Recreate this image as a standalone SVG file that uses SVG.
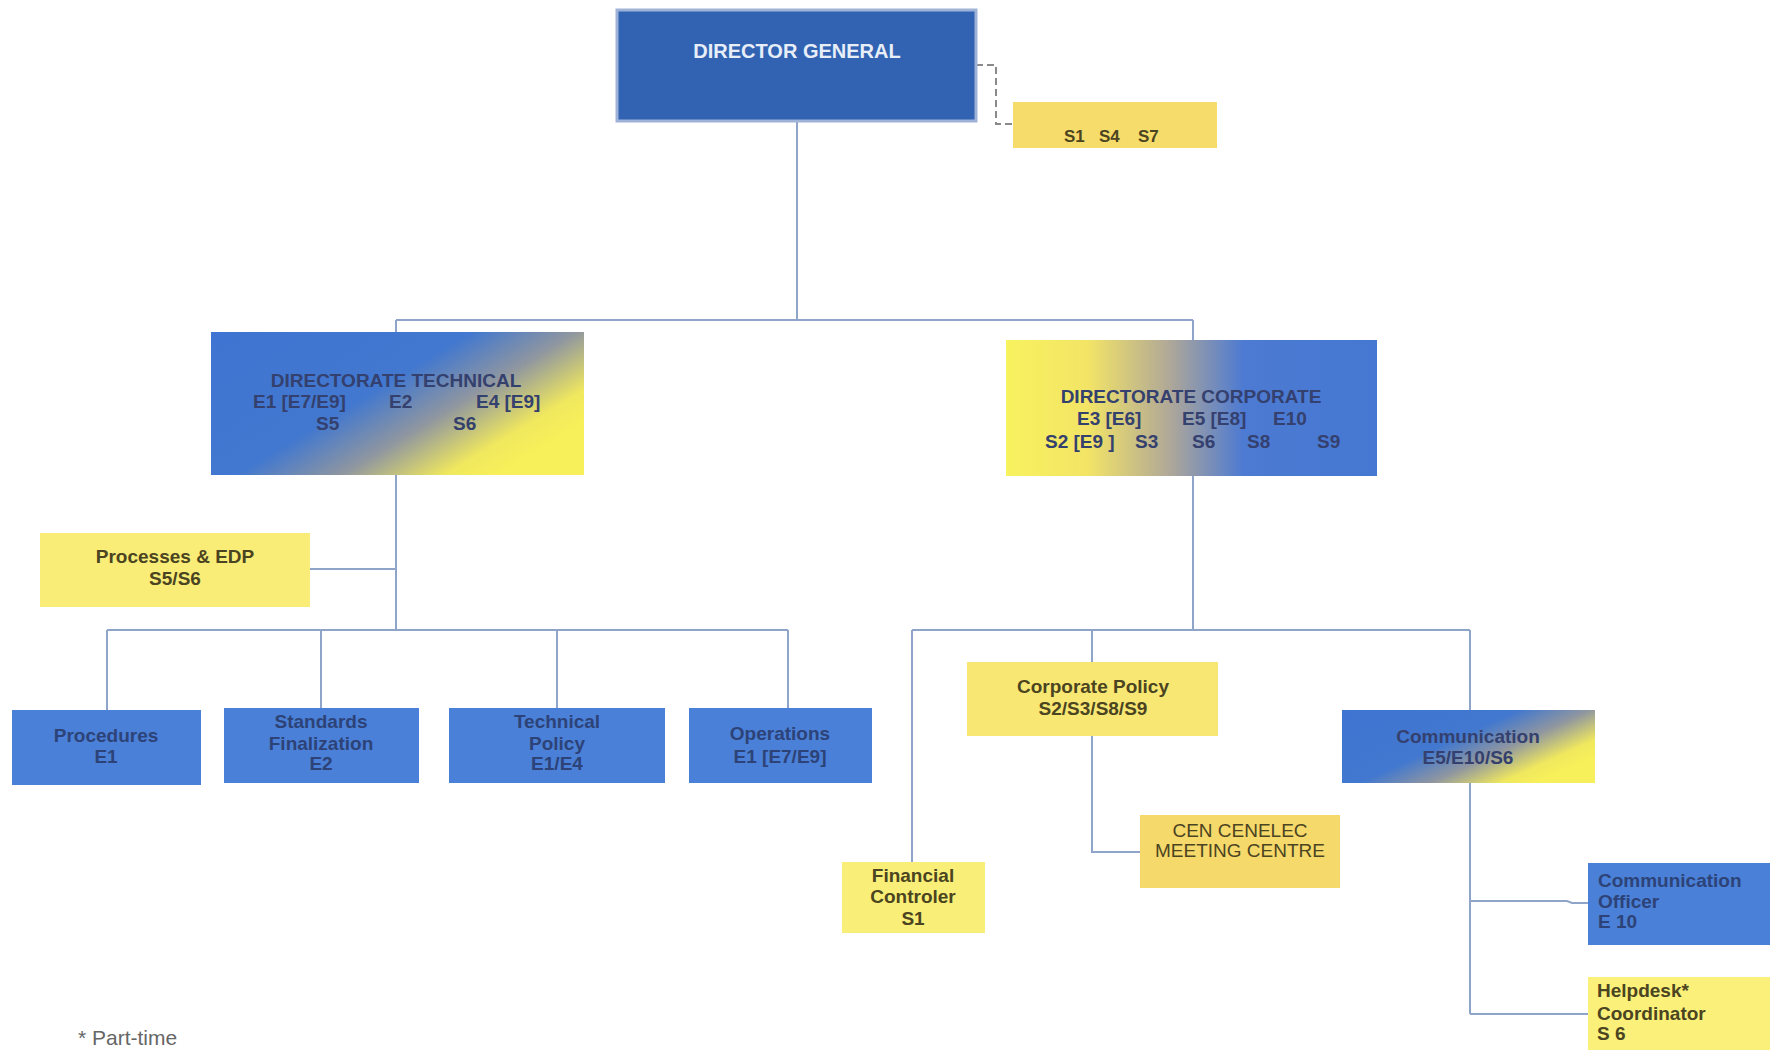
<svg xmlns="http://www.w3.org/2000/svg" width="1770" height="1050" viewBox="0 0 1770 1050">
<defs>
<linearGradient id="gBY" x1="0" y1="0" x2="1" y2="0.63" gradientUnits="objectBoundingBox">
<stop offset="0" stop-color="#3f74d2"/>
<stop offset="0.5" stop-color="#4278cf"/>
<stop offset="0.7" stop-color="#8f96a0"/>
<stop offset="0.9" stop-color="#f0e85e"/>
<stop offset="1" stop-color="#f7f05a"/>
</linearGradient>
<linearGradient id="gYB" x1="0" y1="0" x2="1" y2="0" gradientUnits="objectBoundingBox">
<stop offset="0" stop-color="#f8f25e"/>
<stop offset="0.22" stop-color="#f3e466"/>
<stop offset="0.44" stop-color="#b0a898"/>
<stop offset="0.64" stop-color="#4d7ad2"/>
<stop offset="1" stop-color="#4578d2"/>
</linearGradient>
</defs>
<style>
text{font-family:"Liberation Sans",Arial,sans-serif;font-weight:bold;font-size:19px}
.c{text-anchor:middle}
.yt{fill:#4b4421}
.bt{fill:#2d4377}
.gt{fill:#34406e}
.blue{fill:#4a80d8}
.con{fill:none;stroke:#8ea5c9;stroke-width:2}
.dash{fill:none;stroke:#8a8a8a;stroke-width:2;stroke-dasharray:7 4}
</style>
<rect width="1770" height="1050" fill="#ffffff"/>
<g id="connectors">
<path class="con" d="M797 121V320M396 320H1193M396 320V332M1193 320V340"/>
<path class="dash" d="M976 65H996V124H1013"/>
<path class="con" d="M396 475V630M308 569H396M107 630H788M107 630V710M321 630V708M557 630V708M788 630V708"/>
<path class="con" d="M1193 476V630M912 630H1470M912 630V862M1092 630V662M1470 630V710"/>
<path class="con" d="M1092 736V852H1140"/>
<path class="con" d="M1470 783V1014M1470 901H1567L1572 903H1588M1470 1014H1588"/>
</g>
<g id="director-general">
<rect x="617" y="10" width="359" height="111" fill="#3163b2" stroke="#9fb3d8" stroke-width="3"/>
<text x="797" y="58" class="c" style="font-size:20px;fill:#e8eef8">DIRECTOR GENERAL</text>
</g>
<g id="staff-dg">
<rect x="1013" y="102" width="204" height="46" fill="#f6dc6a"/>
<text class="yt" style="font-size:17px"><tspan x="1064" y="142">S1</tspan><tspan x="1099" y="142">S4</tspan><tspan x="1138" y="142">S7</tspan></text>
</g>
<g id="directorate-technical">
<rect x="211" y="332" width="373" height="143" fill="url(#gBY)"/>
<text x="396" y="387" class="c gt">DIRECTORATE TECHNICAL</text>
<text class="gt"><tspan x="253" y="408">E1 [E7/E9]</tspan><tspan x="389" y="408">E2</tspan><tspan x="476" y="408">E4 [E9]</tspan></text>
<text class="gt"><tspan x="316" y="430">S5</tspan><tspan x="453" y="430">S6</tspan></text>
</g>
<g id="directorate-corporate">
<rect x="1006" y="340" width="371" height="136" fill="url(#gYB)"/>
<text x="1191" y="403" class="c gt">DIRECTORATE CORPORATE</text>
<text class="gt"><tspan x="1077" y="425">E3 [E6]</tspan><tspan x="1182" y="425">E5 [E8]</tspan><tspan x="1273" y="425">E10</tspan></text>
<text class="gt"><tspan x="1045" y="448">S2 [E9 ]</tspan><tspan x="1135" y="448">S3</tspan><tspan x="1192" y="448">S6</tspan><tspan x="1247" y="448">S8</tspan><tspan x="1317" y="448">S9</tspan></text>
</g>
<g id="processes-edp">
<rect x="40" y="533" width="270" height="74" fill="#f9ed78"/>
<text x="175" y="563" class="c yt">Processes &amp; EDP</text>
<text x="175" y="585" class="c yt">S5/S6</text>
</g>
<g id="procedures">
<rect x="12" y="710" width="189" height="75" class="blue"/>
<text x="106" y="742" class="c bt">Procedures</text>
<text x="106" y="763" class="c bt">E1</text>
</g>
<g id="standards-finalization">
<rect x="224" y="708" width="195" height="75" class="blue"/>
<text x="321" y="728" class="c bt">Standards</text>
<text x="321" y="750" class="c bt">Finalization</text>
<text x="321" y="770" class="c bt">E2</text>
</g>
<g id="technical-policy">
<rect x="449" y="708" width="216" height="75" class="blue"/>
<text x="557" y="728" class="c bt">Technical</text>
<text x="557" y="750" class="c bt">Policy</text>
<text x="557" y="770" class="c bt">E1/E4</text>
</g>
<g id="operations">
<rect x="689" y="708" width="183" height="75" class="blue"/>
<text x="780" y="740" class="c bt">Operations</text>
<text x="780" y="763" class="c bt">E1 [E7/E9]</text>
</g>
<g id="corporate-policy">
<rect x="967" y="662" width="251" height="74" fill="#f8e873"/>
<text x="1093" y="693" class="c yt">Corporate Policy</text>
<text x="1093" y="715" class="c yt">S2/S3/S8/S9</text>
</g>
<g id="meeting-centre">
<rect x="1140" y="815" width="200" height="73" fill="#f6d96b"/>
<text x="1240" y="837" class="c yt" style="font-weight:normal">CEN CENELEC</text>
<text x="1240" y="857" class="c yt" style="font-weight:normal">MEETING CENTRE</text>
</g>
<g id="financial-controler">
<rect x="842" y="862" width="143" height="71" fill="#f9ef78"/>
<text x="913" y="882" class="c yt">Financial</text>
<text x="913" y="903" class="c yt">Controler</text>
<text x="913" y="925" class="c yt">S1</text>
</g>
<g id="communication">
<rect x="1342" y="710" width="253" height="73" fill="url(#gBY)"/>
<text x="1468" y="743" class="c gt">Communication</text>
<text x="1468" y="764" class="c gt">E5/E10/S6</text>
</g>
<g id="communication-officer">
<rect x="1588" y="863" width="182" height="82" class="blue"/>
<text x="1598" y="887" class="bt">Communication</text>
<text x="1598" y="908" class="bt">Officer</text>
<text x="1598" y="928" class="bt">E 10</text>
</g>
<g id="helpdesk-coordinator">
<rect x="1588" y="977" width="182" height="73" fill="#faf07a"/>
<text x="1597" y="997" class="yt">Helpdesk*</text>
<text x="1597" y="1020" class="yt">Coordinator</text>
<text x="1597" y="1040" class="yt">S 6</text>
</g>
<text x="78" y="1045" style="font-weight:normal;font-size:21px;fill:#666666">* Part-time</text>
</svg>
